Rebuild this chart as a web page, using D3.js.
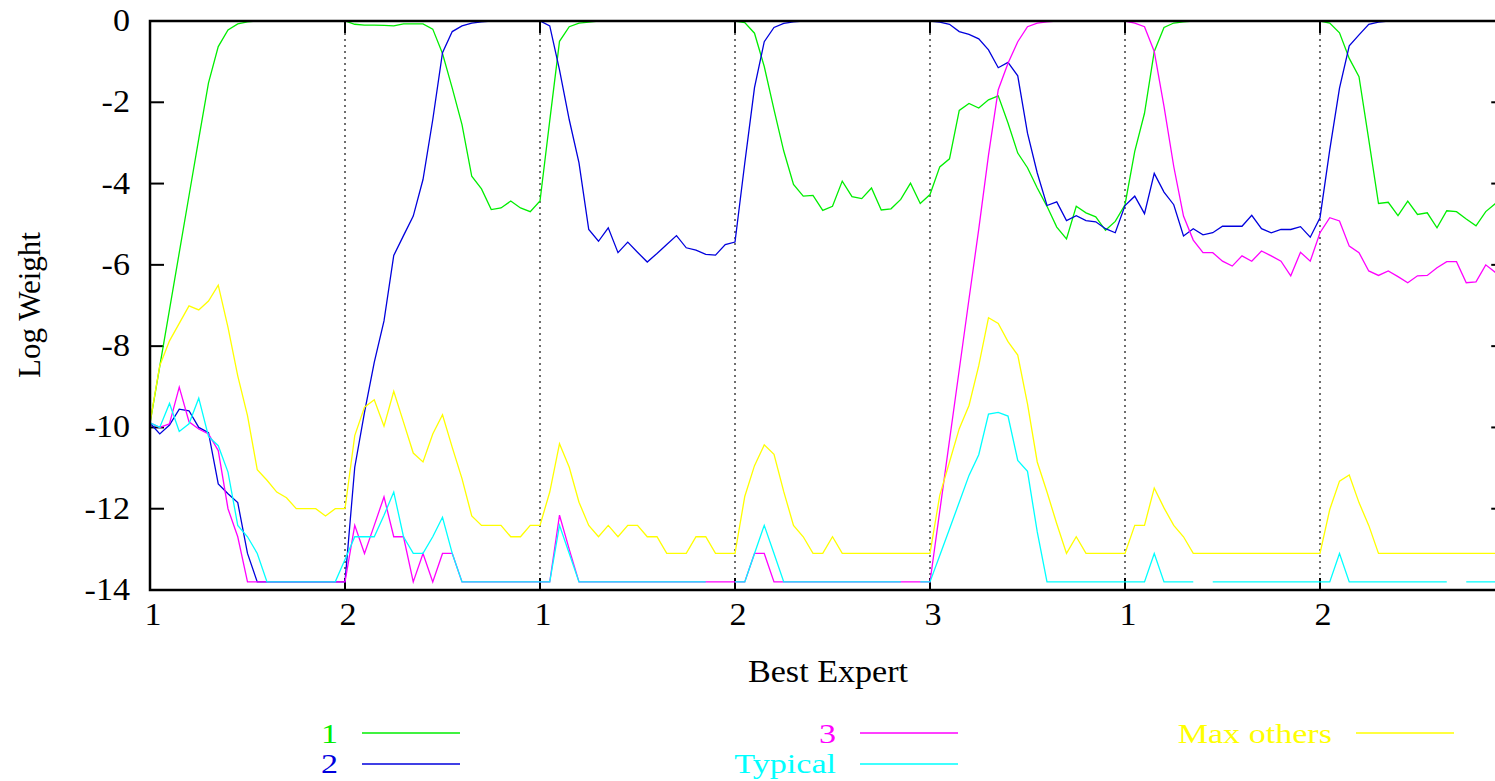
<!DOCTYPE html>
<html>
<head>
<meta charset="utf-8">
<script src="https://cdn.jsdelivr.net/npm/d3@7"></script>
<style>
body { margin: 0; background: #fff; }
svg { display: block; }
text { font-family: "Liberation Serif", "Times New Roman", serif; }
</style>
</head>
<body>
<div id="chart"></div>
<script>
// best expert in each block of 20 trials
var segmentLabels = ["1", "2", "1", "2", "3", "1", "2"];
var segmentStarts = [0, 20, 40, 60, 80, 100, 120];
var yTicks = [0, -2, -4, -6, -8, -10, -12, -14];

// log weights, one value per trial (null = not plotted)
var expert1 = [
  -9.9, -8.5, -7.1, -5.7, -4.3, -2.9, -1.52, -0.63, -0.22, -0.07, -0.02, 0, 0, 0, 0, 0, 0, 0, 0, 0,
  0, -0.08, -0.1, -0.1, -0.11, -0.12, -0.07, -0.07, -0.07, -0.2, -0.8, -1.65, -2.55, -3.82, -4.13, -4.64, -4.6, -4.43, -4.6, -4.69,
  -4.43, -2.45, -0.5, -0.14, -0.05, -0.03, 0, 0, 0, 0, 0, 0, 0, 0, 0, 0, 0, 0, 0, 0,
  0, -0.04, -0.3, -1.12, -2.18, -3.2, -4.02, -4.31, -4.29, -4.66, -4.56, -3.94, -4.32, -4.37, -4.11, -4.65, -4.62, -4.39, -3.99, -4.49,
  -4.27, -3.59, -3.39, -2.2, -2.03, -2.14, -1.94, -1.84, -2.51, -3.25, -3.61, -4.11, -4.56, -5.07, -5.36, -4.56, -4.72, -4.82, -5.15, -4.93,
  -4.52, -3.21, -2.27, -0.75, -0.16, -0.05, -0.02, 0, 0, 0, 0, 0, 0, 0, 0, 0, 0, 0, 0, 0,
  0, -0.05, -0.29, -0.92, -1.37, -2.92, -4.49, -4.46, -4.79, -4.43, -4.76, -4.72, -5.09, -4.67, -4.69, -4.87, -5.04, -4.69, -4.49
];
var expert2 = [
  -9.89, -10.16, -9.94, -9.55, -9.59, -10.0, -10.13, -11.39, -11.63, -11.85, -13.1, -13.8, -13.8, -13.8, -13.8, -13.8, -13.8, -13.8, -13.8, -13.8,
  -13.8, -10.98, -9.63, -8.4, -7.38, -5.77, -5.28, -4.8, -3.9, -2.43, -0.78, -0.26, -0.12, -0.05, -0.02, 0, 0, 0, 0, 0,
  0, -0.12, -1.2, -2.43, -3.49, -5.13, -5.42, -5.09, -5.7, -5.44, -5.69, -5.93, -5.72, -5.5, -5.28, -5.58, -5.64, -5.74, -5.76, -5.5,
  -5.44, -3.5, -1.64, -0.51, -0.16, -0.06, -0.02, 0, 0, 0, 0, 0, 0, 0, 0, 0, 0, 0, 0, 0,
  0, -0.03, -0.08, -0.26, -0.33, -0.44, -0.71, -1.15, -1.02, -1.35, -2.76, -3.74, -4.54, -4.45, -4.91, -4.79, -4.91, -4.94, -5.11, -5.21,
  -4.54, -4.31, -4.74, -3.75, -4.21, -4.52, -5.29, -5.11, -5.26, -5.21, -5.05, -5.05, -5.05, -4.78, -5.11, -5.21, -5.13, -5.13, -5.06, -5.32,
  -4.84, -3.17, -1.65, -0.61, -0.34, -0.08, -0.03, 0, 0, 0, 0, 0, 0, 0, 0, 0, 0, 0, 0
];
var expert3 = [
  -9.89, -10.0, -9.91, -9.01, -9.86, -10.04, -10.16, -10.57, -12.0, -12.69, -13.8, -13.8, -13.8, -13.8, -13.8, -13.8, -13.8, -13.8, -13.8, -13.8,
  -13.8, -12.41, -13.1, -12.41, -11.71, -12.69, -12.69, -13.8, -13.1, -13.8, -13.1, -13.1, -13.8, -13.8, -13.8, -13.8, -13.8, -13.8, -13.8, -13.8,
  -13.8, -13.8, -12.16, -13.0, -13.8, -13.8, -13.8, -13.8, -13.8, -13.8, -13.8, -13.8, -13.8, -13.8, -13.8, -13.8, -13.8, -13.8, -13.8, -13.8,
  -13.8, -13.8, -13.1, -13.1, -13.8, -13.8, -13.8, -13.8, -13.8, -13.8, -13.8, -13.8, -13.8, -13.8, -13.8, -13.8, -13.8, -13.8, -13.8, -13.8,
  -13.8, -12.06, -10.32, -8.58, -6.84, -5.12, -3.3, -1.69, -1.04, -0.51, -0.14, -0.05, -0.02, 0, 0, 0, 0, 0, 0, 0,
  0, -0.05, -0.14, -0.75, -2.1, -3.58, -4.8, -5.39, -5.7, -5.7, -5.91, -6.03, -5.78, -5.91, -5.66, -5.78, -5.91, -6.27, -5.69, -5.91,
  -5.21, -4.84, -4.92, -5.54, -5.7, -6.15, -6.26, -6.15, -6.29, -6.44, -6.27, -6.26, -6.07, -5.92, -5.92, -6.44, -6.42, -6.0, -6.19
];
var typical = [
  -9.89, -10.0, -9.41, -10.1, -9.91, -9.28, -10.22, -10.45, -11.1, -12.41, -12.69, -13.1, -13.8, -13.8, -13.8, -13.8, -13.8, -13.8, -13.8, -13.8,
  -13.25, -12.69, -12.69, -12.69, -12.16, -11.59, -12.69, -13.1, -13.1, -12.69, -12.21, -13.1, -13.8, -13.8, -13.8, -13.8, -13.8, -13.8, -13.8, -13.8,
  -13.8, -13.8, -12.41, -13.1, -13.8, -13.8, -13.8, -13.8, -13.8, -13.8, -13.8, -13.8, -13.8, -13.8, -13.8, -13.8, -13.8, -13.8, null, null,
  -13.8, -13.8, -13.1, -12.41, -13.1, -13.8, -13.8, -13.8, -13.8, -13.8, -13.8, -13.8, -13.8, -13.8, -13.8, -13.8, -13.8, -13.8, null, -13.8,
  -13.8, -13.15, -12.5, -11.84, -11.18, -10.67, -9.67, -9.63, -9.72, -10.81, -11.08, -12.57, -13.8, -13.8, -13.8, -13.8, -13.8, -13.8, -13.8, -13.8,
  -13.8, -13.8, -13.8, -13.1, -13.8, -13.8, -13.8, -13.8, null, -13.8, -13.8, -13.8, -13.8, -13.8, -13.8, -13.8, -13.8, -13.8, -13.8, -13.8,
  -13.8, -13.8, -13.1, -13.8, -13.8, -13.8, -13.8, -13.8, -13.8, -13.8, -13.8, -13.8, -13.8, -13.8, null, -13.8, -13.8, -13.8, -13.8
];
var maxOthers = [
  -9.89, -8.48, -7.87, -7.44, -7.01, -7.11, -6.89, -6.5, -7.54, -8.73, -9.71, -11.04, -11.3, -11.59, -11.73, -12.0, -12.0, -12.0, -12.18, -12.0,
  -12.0, -10.2, -9.5, -9.32, -9.97, -9.11, -9.87, -10.63, -10.85, -10.16, -9.69, -10.49, -11.26, -12.18, -12.41, -12.41, -12.41, -12.69, -12.69, -12.41,
  -12.41, -11.59, -10.4, -10.98, -11.84, -12.41, -12.69, -12.41, -12.69, -12.41, -12.41, -12.69, -12.69, -13.1, -13.1, -13.1, -12.69, -12.69, -13.1, -13.1,
  -13.1, -11.7, -10.94, -10.43, -10.66, -11.58, -12.41, -12.69, -13.1, -13.1, -12.69, -13.1, -13.1, -13.1, -13.1, -13.1, -13.1, -13.1, -13.1, -13.1,
  -13.1, -11.67, -10.85, -10.03, -9.46, -8.48, -7.3, -7.44, -7.89, -8.22, -9.42, -10.85, -11.59, -12.37, -13.1, -12.69, -13.1, -13.1, -13.1, -13.1,
  -13.1, -12.41, -12.41, -11.49, -11.98, -12.41, -12.69, -13.1, -13.1, -13.1, -13.1, -13.1, -13.1, -13.1, -13.1, -13.1, -13.1, -13.1, -13.1, -13.1,
  -13.1, -12.02, -11.32, -11.17, -11.85, -12.41, -13.1, -13.1, -13.1, -13.1, -13.1, -13.1, -13.1, -13.1, -13.1, -13.1, -13.1, -13.1, -13.1
];

var seriesNames = ["1", "2", "3", "Typical", "Max others"];
var seriesColors = ["#00ee00", "#0000dd", "#ff00ff", "#00ffff", "#ffff00"];
var seriesValues = [expert1, expert2, expert3, typical, maxOthers];

var width = 1495, height = 781;
var plotLeft = 150, plotTop = 21, plotBottom = 590;
var step = 9.75;
var fontSize = 31;

var svg = d3.select("#chart").append("svg")
    .attr("width", width)
    .attr("height", height);

var x = d3.scaleLinear().domain([0, 139]).range([plotLeft, plotLeft + 139 * step]);
var y = d3.scaleLinear().domain([-14, 0]).range([plotBottom, plotTop]);
var plotRight = x(139);

// horizontally stretched label, like the original terminal output
function label(g, tx, ty, anchor, txt, color, size, sx) {
  return g.append("text")
      .attr("transform", "translate(" + tx + "," + ty + ") scale(" + (sx || 1.1) + ",1)")
      .attr("text-anchor", anchor)
      .attr("font-size", size || fontSize)
      .attr("fill", color || "#000")
      .text(txt);
}

// dotted lines at each change of best expert
svg.append("g").selectAll("line")
    .data(segmentStarts.slice(1))
    .join("line")
    .attr("x1", d => x(d)).attr("x2", d => x(d))
    .attr("y1", plotTop).attr("y2", plotBottom)
    .attr("stroke", "#222")
    .attr("stroke-width", 1.3)
    .attr("stroke-dasharray", "2,4");

// y ticks on both sides, pointing inward
var tickLen = 14;
var yg = svg.append("g");
yg.selectAll(".tl").data(yTicks).join("line")
    .attr("x1", plotLeft).attr("x2", plotLeft + tickLen)
    .attr("y1", d => y(d)).attr("y2", d => y(d))
    .attr("stroke", "#000").attr("stroke-width", 2);
yg.selectAll(".tr").data(yTicks).join("line")
    .attr("x1", plotRight - tickLen).attr("x2", plotRight)
    .attr("y1", d => y(d)).attr("y2", d => y(d))
    .attr("stroke", "#000").attr("stroke-width", 2);
yTicks.forEach(function(d) {
  label(yg, 130, y(d) + 10, "end", d);
});

// x ticks top and bottom
var xg = svg.append("g");
xg.selectAll(".bt").data(segmentStarts).join("line")
    .attr("x1", d => x(d)).attr("x2", d => x(d))
    .attr("y1", plotBottom).attr("y2", plotBottom - 12)
    .attr("stroke", "#000").attr("stroke-width", 2);
xg.selectAll(".tp").data(segmentStarts).join("line")
    .attr("x1", d => x(d)).attr("x2", d => x(d))
    .attr("y1", plotTop).attr("y2", plotTop + 12)
    .attr("stroke", "#000").attr("stroke-width", 2);
segmentStarts.forEach(function(d, i) {
  label(xg, x(d) + 3, 625, "middle", segmentLabels[i]);
});

// the curves
var line = d3.line()
    .defined(d => d != null)
    .x((d, i) => x(i))
    .y(d => y(d));

svg.append("g").selectAll("path")
    .data(seriesValues)
    .join("path")
    .attr("d", d => line(d))
    .attr("fill", "none")
    .attr("stroke", (d, i) => seriesColors[i])
    .attr("stroke-width", 1.3);

// frame
svg.append("rect")
    .attr("x", plotLeft).attr("y", plotTop)
    .attr("width", plotRight - plotLeft).attr("height", plotBottom - plotTop)
    .attr("fill", "none").attr("stroke", "#000").attr("stroke-width", 2.5);

// axis titles
label(svg, 828, 682, "middle", "Best Expert");
svg.append("text")
    .attr("transform", "translate(40,305) rotate(-90)")
    .attr("text-anchor", "middle")
    .attr("font-size", fontSize)
    .text("Log Weight");

// key (rows are tight, so slightly smaller, wider type)
var legendPos = [
  {tx: 338, ly: 733, dy: 10},
  {tx: 338, ly: 764, dy: 9},
  {tx: 836, ly: 733, dy: 10},
  {tx: 836, ly: 764, dy: 9},
  {tx: 1332, ly: 733, dy: 10}
];
var key = svg.append("g");
seriesNames.forEach(function(name, i) {
  var p = legendPos[i];
  label(key, p.tx, p.ly + p.dy, "end", name, seriesColors[i], 27.5, 1.24);
  key.append("line")
      .attr("x1", p.tx + 24).attr("x2", p.tx + 122)
      .attr("y1", p.ly).attr("y2", p.ly)
      .attr("stroke", seriesColors[i])
      .attr("stroke-width", 1.3);
});
</script>
</body>
</html>
